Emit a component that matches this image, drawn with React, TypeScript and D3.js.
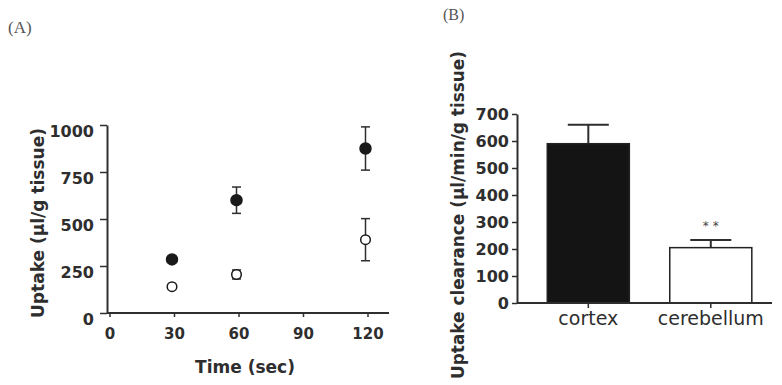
import React, { useEffect, useRef } from 'react';
import * as d3 from 'd3';

// Panel A: uptake over time (two groups)
const times = [30, 60, 120];
const filledMean = [285, 600, 875];
const filledErr = [12, 70, 115];
const openMean = [140, 205, 390];
const openErr = [10, 24, 112];
const xTicksA = [0, 30, 60, 90, 120];
const yTicksA = [0, 250, 500, 750, 1000];

// Panel B: uptake clearance by region
const regions = ['cortex', 'cerebellum'];
const clearance = [590, 205];
const clearanceSem = [70, 28];
const yTicksB = [0, 100, 200, 300, 400, 500, 600, 700];

const INK = '#2e2e2e';
const FONT = '"DejaVu Sans", sans-serif';

const App: React.FC = () => {
  const svgRef = useRef<SVGSVGElement | null>(null);

  useEffect(() => {
    if (!svgRef.current) return;
    const svg = d3.select(svgRef.current);
    svg.selectAll('*').remove();

    // ---------- Panel A ----------
    const xA = d3.scaleLinear().domain([0, 130]).range([109.5, 389]);
    const yA = d3.scaleLinear().domain([0, 1000]).range([313, 125]);
    const axisXA = 107;

    svg.append('text').attr('x', 8).attr('y', 33).attr('font-family', 'serif')
      .attr('font-size', 17).attr('fill', '#555').text('(A)');

    const gya = svg.append('g').attr('transform', `translate(${axisXA},0)`)
      .call(d3.axisLeft(yA).tickValues(yTicksA).tickFormat(d3.format('d'))
        .tickSize(7).tickSizeOuter(0).tickPadding(6));
    gya.selectAll('text').attr('dy', '0.7em');

    const gxa = svg.append('g').attr('transform', `translate(0,${yA(0)})`)
      .call(d3.axisBottom(xA).tickValues(xTicksA).tickFormat(d3.format('d'))
        .tickSize(4).tickSizeOuter(0).tickPadding(11));
    gxa.select('.domain').attr('d', `M${axisXA},0H${xA(130)}`);
    gxa.selectAll('text').attr('font-size', 15);

    svg.append('text')
      .attr('transform', `translate(44,${(yA(0) + yA(1000)) / 2 + 4}) rotate(-90)`)
      .attr('text-anchor', 'middle').attr('font-family', FONT).attr('font-weight', 'bold')
      .attr('font-size', 17).attr('fill', INK).text('Uptake (µl/g tissue)');

    svg.append('text').attr('x', 245).attr('y', 373).attr('text-anchor', 'middle')
      .attr('font-family', FONT).attr('font-weight', 'bold').attr('font-size', 17)
      .attr('fill', INK).text('Time (sec)');

    const series = [
      { mean: filledMean, err: filledErr, filled: true },
      { mean: openMean, err: openErr, filled: false },
    ];
    series.forEach((s) => {
      const g = svg.append('g');
      times.forEach((t, i) => {
        const cx = xA(t) - 2;
        const lo = yA(s.mean[i] - s.err[i]);
        const hi = yA(s.mean[i] + s.err[i]);
        g.append('line').attr('x1', cx).attr('x2', cx).attr('y1', lo).attr('y2', hi)
          .attr('stroke', INK).attr('stroke-width', 1.5);
        [lo, hi].forEach((yy) => {
          g.append('line').attr('x1', cx - 4.5).attr('x2', cx + 4.5).attr('y1', yy).attr('y2', yy)
            .attr('stroke', INK).attr('stroke-width', 1.5);
        });
        g.append('circle').attr('cx', cx).attr('cy', yA(s.mean[i]))
          .attr('r', s.filled ? 5.5 : 4.8)
          .attr('fill', s.filled ? '#1a1a1a' : '#fff')
          .attr('stroke', '#1a1a1a').attr('stroke-width', 1.5);
      });
    });

    // ---------- Panel B ----------
    const axisXB = 517;
    const yB = d3.scaleLinear().domain([0, 700]).range([303, 114]);
    const xB = d3.scaleBand().domain(regions).range([axisXB, 772])
      .paddingInner(0.33).paddingOuter(0.206).align(0.6);

    svg.append('text').attr('x', 443).attr('y', 19.5).attr('font-family', 'serif')
      .attr('font-size', 16).attr('fill', '#555').text('(B)');

    const bw = xB.bandwidth();
    regions.forEach((r, i) => {
      const x0 = xB(r)!;
      const cx = x0 + bw / 2;
      const top = yB(clearance[i]);
      const errTop = yB(clearance[i] + clearanceSem[i]);
      svg.append('line').attr('x1', cx).attr('x2', cx).attr('y1', top).attr('y2', errTop)
        .attr('stroke', INK).attr('stroke-width', 2);
      svg.append('line').attr('x1', cx - bw / 4).attr('x2', cx + bw / 4)
        .attr('y1', errTop).attr('y2', errTop).attr('stroke', INK).attr('stroke-width', 2);
      svg.append('rect').attr('x', x0).attr('y', top).attr('width', bw)
        .attr('height', yB(0) - top)
        .attr('fill', i === 0 ? '#141414' : '#fff')
        .attr('stroke', '#222').attr('stroke-width', 1.5);
    });

    svg.append('text').attr('x', xB('cerebellum')! + bw / 2).attr('y', 230)
      .attr('text-anchor', 'middle').attr('font-family', FONT).attr('font-size', 12)
      .attr('fill', '#444').text('* *');

    svg.append('g').attr('transform', `translate(${axisXB},0)`)
      .call(d3.axisLeft(yB).tickValues(yTicksB).tickSize(5).tickSizeOuter(0).tickPadding(3));

    const gxb = svg.append('g').attr('transform', `translate(0,${yB(0)})`)
      .call(d3.axisBottom(xB).tickSize(5).tickSizeOuter(0).tickPadding(4));
    gxb.select('.domain').attr('d', `M${axisXB},0H772`);
    gxb.selectAll('text').attr('font-weight', 'normal').attr('font-size', 19);

    svg.append('text')
      .attr('transform', `translate(464,51) rotate(-90)`)
      .attr('text-anchor', 'end').attr('font-family', FONT).attr('font-weight', 'bold')
      .attr('font-size', 16.9).attr('fill', INK).text('Uptake clearance (µl/min/g tissue)');

    // shared axis styling
    svg.selectAll('.tick text').attr('font-family', FONT).attr('fill', INK);
    svg.selectAll('.tick text').filter(function () {
      return !d3.select(this).attr('font-weight');
    }).attr('font-weight', 'bold');
    svg.selectAll('.tick text').filter(function () {
      return !d3.select(this).attr('font-size');
    }).attr('font-size', 16);
    svg.selectAll('.tick line').attr('stroke', INK).attr('stroke-width', 1.5);
    svg.selectAll('.domain').attr('stroke', INK).attr('stroke-width', 2);
  }, []);

  return (
    <svg ref={svgRef} width={782} height={385}
      style={{ position: 'absolute', left: 0, top: 0, background: '#fff' }} />
  );
};

export default App;
